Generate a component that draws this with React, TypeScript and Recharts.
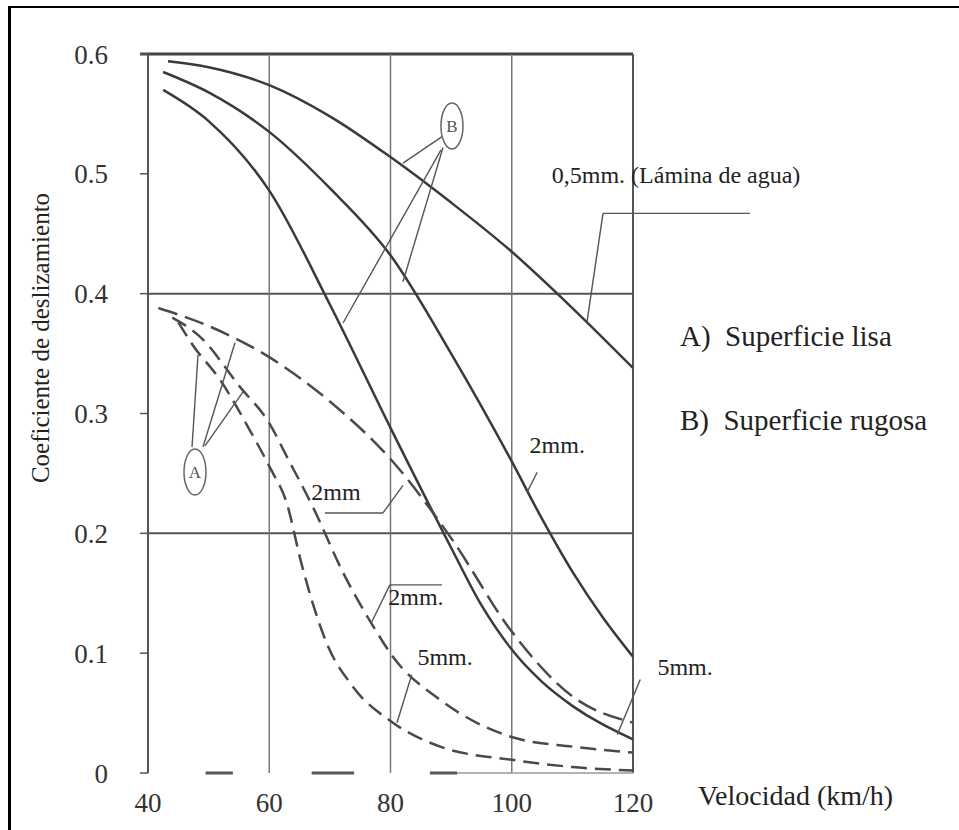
import { LineChart, Line, XAxis, YAxis, ReferenceLine, ReferenceDot } from 'recharts'

// velocidad (km/h) / coeficiente de deslizamiento
const xTicks = [40, 60, 80, 100, 120]
const yTicks = [0, 0.1, 0.2, 0.3, 0.4, 0.5, 0.6]

// B) superficie rugosa - solid curves
const rugosa05 = [
  { v: 43.3, c: 0.594 }, { v: 50, c: 0.589 }, { v: 60, c: 0.574 }, { v: 70, c: 0.548 },
  { v: 80, c: 0.514 }, { v: 90, c: 0.476 }, { v: 100, c: 0.435 }, { v: 110, c: 0.388 },
  { v: 120, c: 0.338 },
]
const rugosa2 = [
  { v: 42.5, c: 0.585 }, { v: 50, c: 0.568 }, { v: 60, c: 0.535 }, { v: 70, c: 0.488 },
  { v: 80, c: 0.432 }, { v: 90, c: 0.35 }, { v: 100, c: 0.26 }, { v: 105, c: 0.212 },
  { v: 110, c: 0.168 }, { v: 115, c: 0.13 }, { v: 120, c: 0.097 },
]
const rugosa5 = [
  { v: 42.5, c: 0.57 }, { v: 50, c: 0.544 }, { v: 60, c: 0.486 }, { v: 70, c: 0.391 },
  { v: 80, c: 0.288 }, { v: 90, c: 0.188 }, { v: 95, c: 0.14 }, { v: 100, c: 0.103 },
  { v: 105, c: 0.076 }, { v: 110, c: 0.056 }, { v: 120, c: 0.028 },
]

// A) superficie lisa - dashed curves
const lisa05 = [
  { v: 41.7, c: 0.388 }, { v: 50, c: 0.373 }, { v: 60, c: 0.347 }, { v: 70, c: 0.31 },
  { v: 80, c: 0.262 }, { v: 90, c: 0.196 }, { v: 100, c: 0.118 }, { v: 110, c: 0.064 },
  { v: 120, c: 0.042 },
]
const lisa2 = [
  { v: 44, c: 0.38 }, { v: 48.6, c: 0.364 }, { v: 55.2, c: 0.322 }, { v: 60, c: 0.292 },
  { v: 62.9, c: 0.264 }, { v: 67.2, c: 0.222 }, { v: 72.2, c: 0.167 }, { v: 77.2, c: 0.122 },
  { v: 80.4, c: 0.097 }, { v: 88.2, c: 0.061 }, { v: 100, c: 0.03 }, { v: 110, c: 0.022 },
  { v: 120, c: 0.017 },
]
const lisa5 = [
  { v: 45, c: 0.376 }, { v: 47.4, c: 0.357 }, { v: 51.9, c: 0.328 }, { v: 56.8, c: 0.286 },
  { v: 60.1, c: 0.255 }, { v: 62.9, c: 0.225 }, { v: 65.3, c: 0.175 }, { v: 69.5, c: 0.108 },
  { v: 73.8, c: 0.072 }, { v: 80.4, c: 0.042 }, { v: 88.2, c: 0.022 }, { v: 100, c: 0.011 },
  { v: 110, c: 0.005 }, { v: 120, c: 0.002 },
]

// leader lines of the annotations, in chart units [v, c]
const leaders = [
  [[88.5, 0.531], [82.06, 0.509]],
  [[88.66, 0.522], [82.06, 0.41]],
  [[88.33, 0.52], [72.17, 0.3755]],
  [[47.26, 0.272], [48.25, 0.349]],
  [[49.07, 0.272], [54.35, 0.359]],
  [[49.4, 0.273], [55.67, 0.318]],
  [[139.3, 0.467], [115.05, 0.467], [112.4, 0.376]],
  [[104.2, 0.251], [102.5, 0.234]],
  [[69.2, 0.217], [78.76, 0.217], [82.06, 0.24]],
  [[88.5, 0.157], [79.9, 0.157], [76.9, 0.126]],
  [[83.5, 0.082], [81.07, 0.042]],
  [[121.2, 0.078], [117.4, 0.032]],
]

const notes = [
  { v: 127.1, c: 0.499, text: '0,5mm. (Lámina de agua)' },
  { v: 107.5, c: 0.274, text: '2mm.' },
  { v: 71.0, c: 0.2345, text: '2mm' },
  { v: 84.2, c: 0.147, text: '2mm.' },
  { v: 89.0, c: 0.097, text: '5mm.' },
  { v: 128.6, c: 0.0885, text: '5mm.' },
]

const legendNotes = [
  { v: 127.75, c: 0.365, text: 'A)\u00a0 Superficie lisa' },
  { v: 127.75, c: 0.2946, text: 'B)\u00a0 Superficie rugosa' },
]

const circled = [
  { v: 90.14, c: 0.54, letter: 'B' },
  { v: 47.75, c: 0.2512, letter: 'A' },
]

// broken base line at 0
const baseDashes = [[49.5, 54], [67, 74], [86.5, 91]]

const SERIF = '"Liberation Serif", "Times New Roman", serif'
const INK = '#3a3a3a'

const Ellipse = (props: any) => {
  const { cx, cy, letter } = props
  return (
    <g>
      <ellipse cx={cx} cy={cy} rx={11} ry={23} fill="#fff" stroke="#666" strokeWidth={1.5} />
      <text x={cx} y={cy + 6} textAnchor="middle" fontSize={17} fontFamily={SERIF} fill="#555">{letter}</text>
    </g>
  )
}

const Note = (props: any) => {
  const { cx, cy, text, size, anchor } = props
  return (
    <text x={cx} y={cy} dy="0.35em" textAnchor={anchor} fontSize={size} fontFamily={SERIF} fill="#222">{text}</text>
  )
}

export default function App() {
  const segs: any[] = []
  leaders.forEach((pts, i) => {
    for (let k = 0; k < pts.length - 1; k++) {
      segs.push(
        <ReferenceLine key={`l${i}-${k}`} ifOverflow="visible" stroke="#555" strokeWidth={1.4}
          segment={[{ x: pts[k][0], y: pts[k][1] }, { x: pts[k + 1][0], y: pts[k + 1][1] }]} />
      )
    }
  })

  return (
    <div style={{ position: 'absolute', left: 0, top: 0, width: 959, height: 830, background: '#fff', overflow: 'hidden' }}>
      <div style={{ position: 'absolute', left: 8, top: 6, width: 960, height: 840, borderTop: '2px solid #000', borderLeft: '3px solid #000' }} />

      <div style={{ position: 'absolute', left: 0, top: 0 }}>
        <LineChart width={959} height={830} data={lisa05} margin={{ top: 54, right: 326, bottom: 17, left: 88 }}>
          <XAxis dataKey="v" type="number" domain={[40, 120]} ticks={xTicks} allowDataOverflow
            axisLine={false} tickLine={false} tickSize={0} tickMargin={20} height={40}
            tick={{ fontSize: 27, fill: '#333', fontFamily: SERIF }} />
          <YAxis type="number" domain={[0, 0.6]} ticks={yTicks} width={60}
            axisLine={{ stroke: '#555', strokeWidth: 2 }} tickLine={{ stroke: '#555', strokeWidth: 1.5 }}
            tickSize={8} tickMargin={32}
            tickFormatter={(t: number) => (t === 0 ? '0' : t.toFixed(1))}
            tick={{ fontSize: 27, fill: '#333', fontFamily: SERIF }} />

          <ReferenceLine stroke="#444" strokeWidth={3} segment={[{ x: 38.7, y: 0.6 }, { x: 120, y: 0.6 }]} ifOverflow="visible" />
          <ReferenceLine y={0.4} stroke="#555" strokeWidth={2} />
          <ReferenceLine y={0.2} stroke="#555" strokeWidth={2} />
          <ReferenceLine x={60} stroke="#777" strokeWidth={1.5} />
          <ReferenceLine x={80} stroke="#777" strokeWidth={1.5} />
          <ReferenceLine x={100} stroke="#777" strokeWidth={1.5} />
          <ReferenceLine x={120} stroke="#555" strokeWidth={2} />
          {baseDashes.map((d, i) => (
            <ReferenceLine key={`b${i}`} segment={[{ x: d[0], y: 0 }, { x: d[1], y: 0 }]} stroke="#555" strokeWidth={3} ifOverflow="visible" />
          ))}
          <ReferenceLine segment={[{ x: 91, y: 0 }, { x: 120, y: 0 }]} stroke="#999" strokeWidth={1.5} />

          <Line data={rugosa05} dataKey="c" type="monotone" stroke={INK} strokeWidth={2.5} dot={false} isAnimationActive={false} />
          <Line data={rugosa2} dataKey="c" type="monotone" stroke={INK} strokeWidth={2.5} dot={false} isAnimationActive={false} />
          <Line data={rugosa5} dataKey="c" type="monotone" stroke={INK} strokeWidth={2.5} dot={false} isAnimationActive={false} />
          <Line data={lisa05} dataKey="c" type="monotone" stroke="#4a4a4a" strokeWidth={2.5} strokeDasharray="20 8" dot={false} isAnimationActive={false} />
          <Line data={lisa2} dataKey="c" type="monotone" stroke="#4a4a4a" strokeWidth={2.5} strokeDasharray="16 8" dot={false} isAnimationActive={false} />
          <Line data={lisa5} dataKey="c" type="monotone" stroke="#4a4a4a" strokeWidth={2.5} strokeDasharray="16 8" dot={false} isAnimationActive={false} />

          {segs}

          {circled.map((o) => (
            <ReferenceDot key={o.letter} x={o.v} y={o.c} r={0} ifOverflow="visible"
              shape={(p: any) => <Ellipse {...p} letter={o.letter} />} />
          ))}

          {notes.map((n, i) => (
            <ReferenceDot key={`n${i}`} x={n.v} y={n.c} r={0} ifOverflow="visible"
              shape={(p: any) => <Note {...p} text={n.text} size={24} anchor="middle" />} />
          ))}
          {legendNotes.map((n, i) => (
            <ReferenceDot key={`g${i}`} x={n.v} y={n.c} r={0} ifOverflow="visible"
              shape={(p: any) => <Note {...p} text={n.text} size={29} anchor="start" />} />
          ))}
        </LineChart>
      </div>

      <div style={{ position: 'absolute', left: 698, top: 780, fontFamily: SERIF, fontSize: 28, color: '#222', whiteSpace: 'nowrap' }}>
        Velocidad (km/h)
      </div>
      <div style={{
        position: 'absolute', left: 41, top: 338, transform: 'translate(-50%, -50%) rotate(-90deg)',
        fontFamily: SERIF, fontSize: 25, color: '#222', whiteSpace: 'nowrap',
      }}>
        Coeficiente de deslizamiento
      </div>
    </div>
  )
}
